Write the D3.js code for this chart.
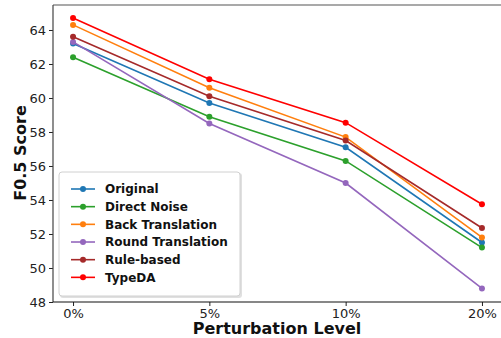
<!DOCTYPE html>
<meta charset="utf-8">
<style>
    body { margin: 0; background: #fff; }
    svg { font-family: "DejaVu Sans", sans-serif; }
</style>
<svg width="501" height="338"></svg>
<script src="https://cdn.jsdelivr.net/npm/d3@7"></script>
<script>
    var levels = ["0%", "5%", "10%", "20%"];
    var seriesNames = ["Original", "Direct Noise", "Back Translation", "Round Translation", "Rule-based", "TypeDA"];
    var seriesColors = ["#1f77b4", "#2ca02c", "#ff7f0e", "#9467bd", "#a52a2a", "#ff0000"];

    var original = [63.2, 59.7, 57.1, 51.5];
    var directNoise = [62.4, 58.9, 56.3, 51.2];
    var backTranslation = [64.3, 60.6, 57.7, 51.8];
    var roundTranslation = [63.3, 58.5, 55.0, 48.8];
    var ruleBased = [63.6, 60.1, 57.5, 52.35];
    var typeDA = [64.7, 61.1, 58.55, 53.75];

    var yTicks = [48, 50, 52, 54, 56, 58, 60, 62, 64];

    var allSeries = [original, directNoise, backTranslation, roundTranslation, ruleBased, typeDA];

    var svg = d3.select("svg");
    var plotL = 53, plotR = 502, plotT = 5, plotB = 302;

    var x = d3.scalePoint().domain(levels).range([plotL, plotR]).padding(0.147);
    var y = d3.scaleLinear().domain([48, 65.47]).range([plotB, plotT]);

    // axes
    var yAxis = svg.append("g")
            .attr("transform", "translate(" + plotL + ",0)")
            .call(d3.axisLeft(y).tickValues(yTicks).tickSize(4).tickPadding(3));
    var xAxis = svg.append("g")
            .attr("transform", "translate(0," + plotB + ")")
            .call(d3.axisBottom(x).tickSize(4).tickPadding(3));
    [yAxis, xAxis].forEach(function (g) {
        g.select(".domain").remove();
        g.selectAll("text").attr("font-size", "13px").attr("fill", "#222")
                .attr("font-family", "DejaVu Sans, sans-serif");
        g.selectAll("line").attr("stroke", "#222");
    });

    // frame
    svg.append("line").attr("x1", plotL).attr("x2", plotR).attr("y1", plotT).attr("y2", plotT)
            .attr("stroke", "#555").attr("stroke-width", 1.2);
    svg.append("line").attr("x1", plotL).attr("x2", plotL).attr("y1", plotT).attr("y2", plotB)
            .attr("stroke", "#444").attr("stroke-width", 1.2);
    svg.append("line").attr("x1", plotL).attr("x2", plotR).attr("y1", plotB).attr("y2", plotB)
            .attr("stroke", "#111").attr("stroke-width", 1.2);

    // lines + markers
    var line = d3.line()
            .x(function (d, i) { return x(levels[i]); })
            .y(function (d) { return y(d); });

    allSeries.forEach(function (vals, k) {
        svg.append("path")
                .attr("d", line(vals))
                .attr("fill", "none")
                .attr("stroke", seriesColors[k])
                .attr("stroke-width", 1.6);
        svg.append("g").selectAll("circle")
                .data(vals)
                .enter().append("circle")
                .attr("cx", function (d, i) { return x(levels[i]); })
                .attr("cy", function (d) { return y(d); })
                .attr("r", 3)
                .attr("fill", seriesColors[k]);
    });

    // legend
    var lg = svg.append("g");
    lg.append("rect").attr("x", 60).attr("y", 173).attr("width", 182).attr("height", 125)
            .attr("rx", 3).attr("fill", "#ccc").attr("opacity", 0.6);
    lg.append("rect").attr("x", 59).attr("y", 172).attr("width", 181).attr("height", 124)
            .attr("rx", 3).attr("fill", "#fff").attr("stroke", "#d0d0d0").attr("stroke-width", 1);
    seriesNames.forEach(function (name, k) {
        var ly = 189 + k * 17.67;
        lg.append("line").attr("x1", 71).attr("x2", 95).attr("y1", ly).attr("y2", ly)
                .attr("stroke", seriesColors[k]).attr("stroke-width", 1.6);
        lg.append("circle").attr("cx", 83).attr("cy", ly).attr("r", 3).attr("fill", seriesColors[k]);
        lg.append("text").attr("x", 105).attr("y", ly + 4.3)
                .attr("font-size", "12px").attr("font-weight", "bold").attr("fill", "#111")
                .text(name);
    });

    // axis titles
    svg.append("text")
            .attr("x", 277).attr("y", 334)
            .attr("text-anchor", "middle")
            .attr("font-size", "16px").attr("font-weight", "bold").attr("fill", "#111")
            .text("Perturbation Level");
    svg.append("text")
            .attr("transform", "translate(26,153) rotate(-90)")
            .attr("text-anchor", "middle")
            .attr("font-size", "16px").attr("font-weight", "bold").attr("fill", "#111")
            .text("F0.5 Score");
</script>
